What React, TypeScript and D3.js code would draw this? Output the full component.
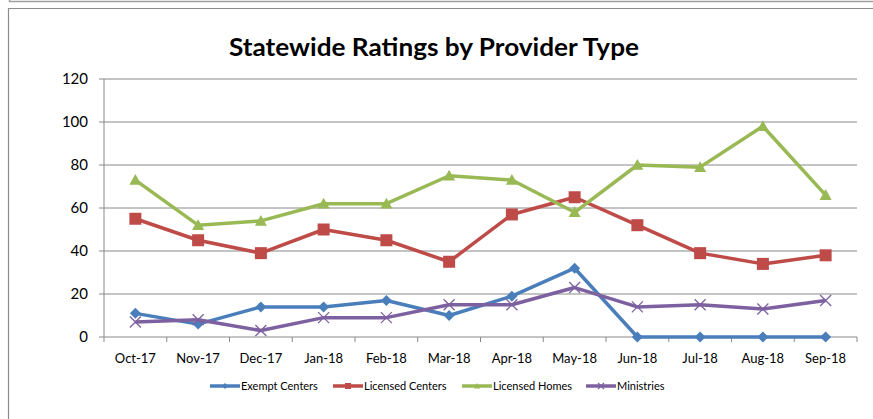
import React from 'react';
import * as d3 from 'd3';

const months = ['Oct-17', 'Nov-17', 'Dec-17', 'Jan-18', 'Feb-18', 'Mar-18', 'Apr-18', 'May-18', 'Jun-18', 'Jul-18', 'Aug-18', 'Sep-18'];
const exemptCenters = [11, 6, 14, 14, 17, 10, 19, 32, 0, 0, 0, 0];
const licensedCenters = [55, 45, 39, 50, 45, 35, 57, 65, 52, 39, 34, 38];
const licensedHomes = [73, 52, 54, 62, 62, 75, 73, 58, 80, 79, 98, 66];
const ministries = [7, 8, 3, 9, 9, 15, 15, 23, 14, 15, 13, 17];
const yTicks = [0, 20, 40, 60, 80, 100, 120];

type Marker = 'diamond' | 'square' | 'triangle' | 'x';
interface Series {
  name: string;
  values: number[];
  color: string;
  marker: Marker;
}

const series: Series[] = [
  { name: 'Exempt Centers', values: exemptCenters, color: '#4a7ebb', marker: 'diamond' },
  { name: 'Licensed Centers', values: licensedCenters, color: '#be4b48', marker: 'square' },
  { name: 'Licensed Homes', values: licensedHomes, color: '#98b954', marker: 'triangle' },
  { name: 'Ministries', values: ministries, color: '#7d60a0', marker: 'x' },
];

const W = 873;
const H = 419;
const plot = { left: 104, right: 857, top: 79, bottom: 337 };
const font = 'Lato, "Open Sans", sans-serif';

// marker drawn centred on (0,0)
const MarkerShape = ({ kind, color, size }: { kind: Marker; color: string; size: number }) => {
  const s = size / 2;
  if (kind === 'diamond') return <path d={`M0,${-s}L${s},0L0,${s}L${-s},0Z`} fill={color} />;
  if (kind === 'square') return <rect x={-s} y={-s} width={size} height={size} fill={color} />;
  if (kind === 'triangle') return <path d={`M0,${-s}L${s},${s * 0.8}L${-s},${s * 0.8}Z`} fill={color} />;
  return (
    <path d={`M${-s},${-s}L${s},${s}M${-s},${s}L${s},${-s}`} stroke={color} strokeWidth={1.3} fill="none" />
  );
};

const markerSize: Record<Marker, number> = { diamond: 11, square: 12, triangle: 12, x: 11 };

const App: React.FC = () => {
  const x = d3.scaleBand<string>().domain(months).range([plot.left, plot.right]);
  const y = d3.scaleLinear().domain([0, 120]).range([plot.bottom, plot.top]);
  const cx = (m: string) => (x(m) || 0) + x.bandwidth() / 2;

  const line = d3.line<number>()
    .x((_, i) => cx(months[i]))
    .y(d => y(d));

  const boundaries = months.map(m => x(m) || 0).concat([plot.right]);

  const legendX = [210, 333, 462, 586];

  return (
    <svg width={W} height={H} style={{ position: 'absolute', left: 0, top: 0, background: '#fff' }}>
      {/* frames */}
      <path d="M9.5,0V1.5H873" stroke="#a0a0a0" strokeWidth={1.5} fill="none" />
      <path d={`M8.5,${H}V8.5H${W}`} stroke="#8c8c8c" strokeWidth={1.2} fill="none" />

      <text x={434} y={56} textAnchor="middle" fontFamily={font} fontWeight="bold" fontSize={24}
        textLength={410} lengthAdjust="spacingAndGlyphs" fill="#000">
        Statewide Ratings by Provider Type
      </text>

      {/* gridlines */}
      {yTicks.filter(t => t > 0).map(t => (
        <line key={t} x1={plot.left} x2={plot.right} y1={y(t)} y2={y(t)} stroke="#888" strokeWidth={1} />
      ))}
      {/* y axis */}
      <line x1={plot.left} x2={plot.left} y1={plot.top} y2={plot.bottom} stroke="#888" />
      {yTicks.map(t => (
        <g key={t}>
          <line x1={plot.left - 5} x2={plot.left} y1={y(t)} y2={y(t)} stroke="#888" />
          <text x={88} y={y(t)} dy="0.35em" textAnchor="end" fontFamily={font} fontSize={15} fill="#000">{t}</text>
        </g>
      ))}
      {/* x axis */}
      <line x1={plot.left} x2={plot.right} y1={plot.bottom} y2={plot.bottom} stroke="#888" />
      {boundaries.map((b, i) => (
        <line key={i} x1={b} x2={b} y1={plot.bottom} y2={plot.bottom + 5} stroke="#888" />
      ))}
      {months.map(m => (
        <text key={m} x={cx(m)} y={363} textAnchor="middle" fontFamily={font} fontSize={13} fill="#000">{m}</text>
      ))}

      {/* series */}
      {series.map(s => (
        <g key={s.name}>
          <path d={line(s.values) || ''} fill="none" stroke={s.color} strokeWidth={3.5} strokeLinejoin="round" />
          {s.values.map((v, i) => (
            <g key={i} transform={`translate(${cx(months[i])},${y(v)})`}>
              <MarkerShape kind={s.marker} color={s.color} size={markerSize[s.marker]} />
            </g>
          ))}
        </g>
      ))}

      {/* legend */}
      {series.map((s, i) => (
        <g key={s.name}>
          <line x1={legendX[i]} x2={legendX[i] + 30} y1={386} y2={386} stroke={s.color} strokeWidth={3.5} />
          <g transform={`translate(${legendX[i] + 15},386)`}>
            <MarkerShape kind={s.marker} color={s.color} size={6} />
          </g>
          <text x={legendX[i] + 31} y={386} dy="0.35em" fontFamily={font} fontSize={11} fill="#000">{s.name}</text>
        </g>
      ))}
    </svg>
  );
};

export default App;
